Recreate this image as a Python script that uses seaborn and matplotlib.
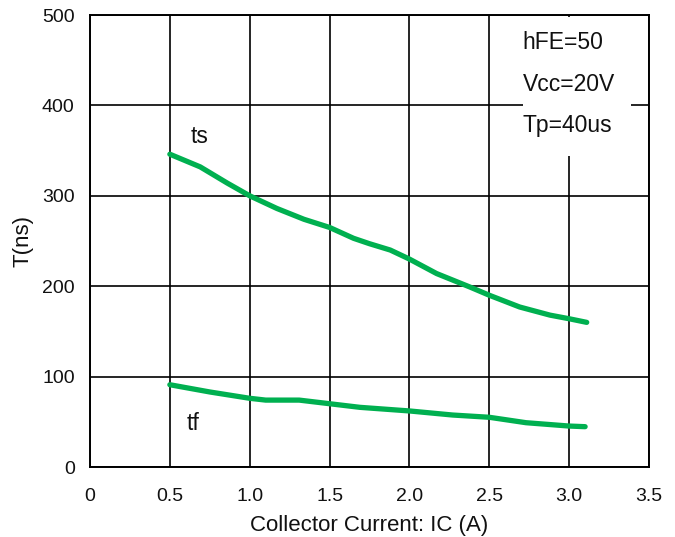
import matplotlib
matplotlib.use("Agg")
import matplotlib.pyplot as plt
import seaborn as sns
import pandas as pd
from matplotlib.patches import Rectangle

# Data
ts_x = [0.5, 0.69, 0.86, 1.0, 1.17, 1.34, 1.5, 1.65, 1.75, 1.88, 2.0, 2.17,
        2.38, 2.5, 2.69, 2.88, 3.0, 3.11]
ts_y = [346, 332, 314, 300, 286, 274, 265, 253, 247, 240, 230, 214,
        199, 190, 177, 168, 164, 160]
tf_x = [0.5, 0.75, 1.0, 1.1, 1.31, 1.5, 1.69, 2.0, 2.27, 2.5, 2.73, 3.0, 3.1]
tf_y = [91, 83, 76, 74, 74, 70, 66, 62, 57.5, 55, 49, 45.3, 44.6]
x_ticks = [0, 0.5, 1.0, 1.5, 2.0, 2.5, 3.0, 3.5]
x_tick_labels = ["0", "0.5", "1.0", "1.5", "2.0", "2.5", "3.0", "3.5"]
y_ticks = [0, 100, 200, 300, 400, 500]
y_tick_labels = ["0", "100", "200", "300", "400", "500"]
cond_text = ["hFE=50", "Vcc=20V", "Tp=40us"]

sns.set_style("white")
plt.rcParams["font.family"] = ["Liberation Sans", "DejaVu Sans"]

ts_df = pd.DataFrame({"IC": ts_x, "T": ts_y})
tf_df = pd.DataFrame({"IC": tf_x, "T": tf_y})

fig = plt.figure(figsize=(6.75, 5.37), dpi=100)
ax = fig.add_axes([90 / 675, 1 - 467 / 537, (649 - 90) / 675, (467 - 15) / 537])

green = "#00b050"
sns.lineplot(data=ts_df, x="IC", y="T", ax=ax, color=green, linewidth=3.8,
             solid_capstyle="round", solid_joinstyle="round", zorder=3)
sns.lineplot(data=tf_df, x="IC", y="T", ax=ax, color=green, linewidth=3.8,
             solid_capstyle="round", solid_joinstyle="round", zorder=3)

ax.set_xlim(0, 3.5)
ax.set_ylim(0, 500)
ax.set_xticks(x_ticks)
ax.set_xticklabels(x_tick_labels)
ax.set_yticks(y_ticks)
ax.set_yticklabels(y_tick_labels)
ax.tick_params(axis="x", length=0, pad=15, labelsize=14, colors="#111111")
ax.tick_params(axis="y", length=0, pad=11, labelsize=14, colors="#111111")

ax.set_axisbelow(True)
ax.grid(True, color="black", linewidth=1.2)
for s in ax.spines.values():
    s.set_visible(True)
    s.set_color("black")
    s.set_linewidth(1.4)

ax.set_xlabel("Collector Current: IC (A)", fontsize=16, labelpad=7, color="#111111")
ax.set_ylabel("T(ns)", fontsize=16, labelpad=6, color="#111111")

# white box behind the condition text
ax.add_patch(Rectangle((2.71, 344), 0.68, 154, facecolor="white",
                       edgecolor="none", zorder=1))
for txt, yy in zip(cond_text, [470, 423, 378]):
    ax.text(2.71, yy, txt, fontsize=16.5, va="center", ha="left",
            color="#111111", zorder=4)

ax.text(0.63, 366, "ts", fontsize=16.5, va="center", ha="left", color="#111111")
ax.text(0.605, 48, "tf", fontsize=16.5, va="center", ha="left", color="#111111")

fig.savefig("out.png", dpi=100)
